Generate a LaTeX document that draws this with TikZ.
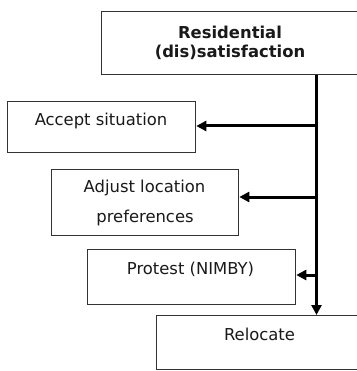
\documentclass[tikz,border=0pt]{standalone}
\usepackage{fontspec}
\setmainfont{DejaVu Sans}
\usetikzlibrary{arrows.meta}

\begin{document}
\begin{tikzpicture}[x=1pt, y=-1pt,
  box/.style={draw=black!80, line width=1.3pt, rectangle, inner sep=0pt, anchor=north west},
  txt/.style={anchor=base, inner sep=0pt, text=black!90,
    font=\fontsize{16.4}{19.5}\selectfont},
  headtxt/.style={txt, font=\fontsize{16.4}{19.5}\selectfont\bfseries},
  flow/.style={line width=3pt, -{Triangle[length=10pt, width=10pt]}},
  trunkline/.style={line width=3pt}]
  \useasboundingbox (0,0) rectangle (356,371);

  % boxes (the top and bottom ones run past the right margin)
  \node[box, minimum width=280pt, minimum height=63pt] (top) at (101,11) {};
  \node[box, minimum width=188pt, minimum height=51pt] (accept) at (7,101) {};
  \node[box, minimum width=187pt, minimum height=66pt] (adjust) at (51,169) {};
  \node[box, minimum width=208pt, minimum height=55pt] (protest) at (87,249) {};
  \node[box, minimum width=220pt, minimum height=54pt] (relocate) at (156,315) {};

  % labels
  \node[headtxt] (topA) at (230,38.3) {Residential};
  \node[headtxt] (topB) at (230,57.8) {(dis)satisfaction};
  \node[txt] (acceptT) at (101,126) {Accept situation};
  \node[txt] (adjustA) at (144.5,192) {Adjust location};
  \node[txt] (adjustB) at (145,222) {preferences};
  \node[txt] (protestT) at (190.5,274) {Protest (NIMBY)};
  \node[txt] (relocateT) at (259.5,340) {Relocate};

  % trunk and branch points
  \coordinate (trunk) at (316.5,0);
  \coordinate (b1) at (316.5,126);
  \coordinate (b2) at (316.5,197);
  \coordinate (b3) at (316.5,275);

  \draw[flow] (top.south -| trunk) -- (relocate.north -| trunk);
  \draw[flow] (b1) -- (b1 -| accept.east);
  \draw[flow] (b2) -- (b2 -| adjust.east);
  \draw[flow] (b3) -- (b3 -| protest.east);
\end{tikzpicture}
\end{document}
